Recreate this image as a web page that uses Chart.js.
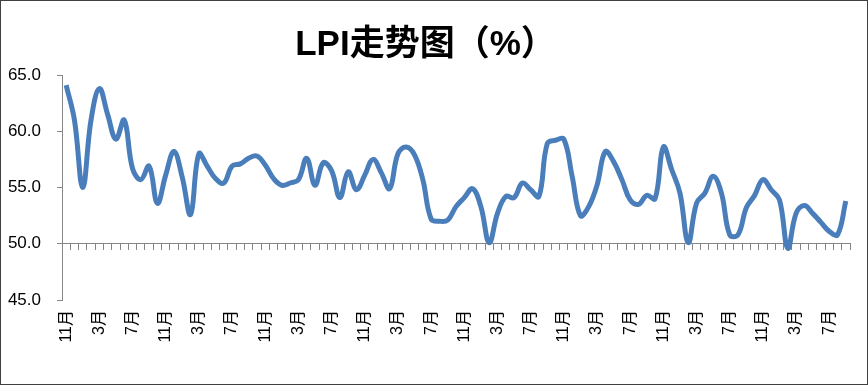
<!DOCTYPE html>
<html>
<head>
<meta charset="utf-8">
<script src="https://cdn.jsdelivr.net/npm/chart.js@4"></script>
<style>
  html, body { margin: 0; padding: 0; background: #fff; }
  #wrap { width: 868px; height: 385px; box-sizing: border-box; border: 1px solid #404040; }
  canvas { display: block; }
</style>
</head>
<body>
<div id="wrap"><canvas id="lpiChart" width="866" height="383"></canvas></div>
<script>
  // months from 11月 through 9月 (95 points)
  const months = [
    '11月', '12月',
    '1月', '2月', '3月', '4月', '5月', '6月', '7月', '8月', '9月', '10月', '11月', '12月',
    '1月', '2月', '3月', '4月', '5月', '6月', '7月', '8月', '9月', '10月', '11月', '12月',
    '1月', '2月', '3月', '4月', '5月', '6月', '7月', '8月', '9月', '10月', '11月', '12月',
    '1月', '2月', '3月', '4月', '5月', '6月', '7月', '8月', '9月', '10月', '11月', '12月',
    '1月', '2月', '3月', '4月', '5月', '6月', '7月', '8月', '9月', '10月', '11月', '12月',
    '1月', '2月', '3月', '4月', '5月', '6月', '7月', '8月', '9月', '10月', '11月', '12月',
    '1月', '2月', '3月', '4月', '5月', '6月', '7月', '8月', '9月', '10月', '11月', '12月',
    '1月', '2月', '3月', '4月', '5月', '6月', '7月', '8月', '9月',
  ];

  const lpi = [
    64.1, 61.0, 55.0, 61.0, 63.8, 61.5, 59.3, 61.0, 56.7, 55.7,
    56.9, 53.6, 56.1, 58.2, 55.9, 52.6, 58.0, 56.9, 55.8, 55.4,
    56.9, 57.1, 57.6, 57.8, 57.0, 55.8, 55.2, 55.4, 55.7, 57.6,
    55.2, 57.2, 56.5, 54.1, 56.4, 54.8, 56.1, 57.5, 56.3, 54.9,
    58.0, 58.6, 57.9, 55.7, 52.2, 52.0, 52.1, 53.3, 54.1, 54.9,
    53.3, 50.1, 52.7, 54.2, 54.1, 55.4, 54.8, 54.2, 58.9, 59.2,
    59.3, 56.0, 52.5, 53.3, 55.2, 58.2, 57.3, 55.7, 53.9, 53.5,
    54.3, 54.0, 58.6, 56.6, 54.5, 50.1, 53.6, 54.5, 56.0, 54.5,
    50.8, 50.8, 53.2, 54.3, 55.7, 54.8, 53.9, 49.6, 52.7, 53.4,
    52.7, 51.9, 51.1, 50.8, 53.8,
  ];

  const yMin = 45, yMax = 65, yStep = 5;
  const xAxisAt = 50;
  const labelEvery = 4;

  const axisC = '#868686';
  const lineC = '#4a7ebb';
  const fontFam = "'Liberation Sans', 'Noto Sans CJK SC', sans-serif";

  Chart.defaults.font.family = fontFam;
  Chart.defaults.color = '#000';

  new Chart(document.getElementById('lpiChart'), {
    type: 'line',
    data: {
      labels: months,
      datasets: [{
        data: lpi,
        xAxisID: 'x',
        yAxisID: 'y',
        borderColor: lineC,
        borderWidth: 5,
        tension: 0.4,
        pointRadius: 0,
        fill: false,
        clip: false,
      }],
    },
    options: {
      responsive: false,
      animation: false,
      devicePixelRatio: 1,
      layout: { padding: { left: 0, right: 17, top: 0, bottom: 0 } },
      scales: {
        y: {
          position: 'left',
          min: yMin,
          max: yMax,
          border: { display: true, color: axisC, width: 1 },
          grid: { drawOnChartArea: false, drawTicks: true, tickLength: 5, color: axisC },
          ticks: {
            stepSize: yStep,
            padding: 16,
            color: '#000',
            font: { size: 17 },
            callback: v => Number(v).toFixed(1),
          },
          afterFit: s => { s.width = 61; },
        },
        x: {
          type: 'category',
          position: { y: xAxisAt },
          offset: true,
          border: { display: true, color: axisC, width: 1 },
          grid: { drawOnChartArea: false, drawTicks: true, tickLength: 6, color: axisC, offset: true },
          ticks: { display: false, autoSkip: false },
          afterFit: s => { s.height = 0; s.paddingLeft = 0; s.paddingRight = 0; },
        },
        x2: {
          type: 'category',
          position: 'bottom',
          offset: true,
          border: { display: false },
          grid: { display: false, drawTicks: false },
          ticks: {
            autoSkip: false,
            minRotation: 90,
            maxRotation: 90,
            padding: 10,
            color: '#000',
            font: { size: 16 },
            callback: (v, i) => (i % labelEvery === 0 ? months[i] : ''),
          },
          afterFit: s => { s.height = 84; s.paddingLeft = 0; s.paddingRight = 0; },
        },
      },
      plugins: {
        legend: { display: false },
        tooltip: { enabled: false },
        title: {
          display: true,
          text: 'LPI走势图（%）',
          color: '#000',
          font: { size: 35, weight: 'bold', family: fontFam },
          padding: { top: 23, bottom: 9 },
        },
      },
    },
  });
</script>
</body>
</html>
